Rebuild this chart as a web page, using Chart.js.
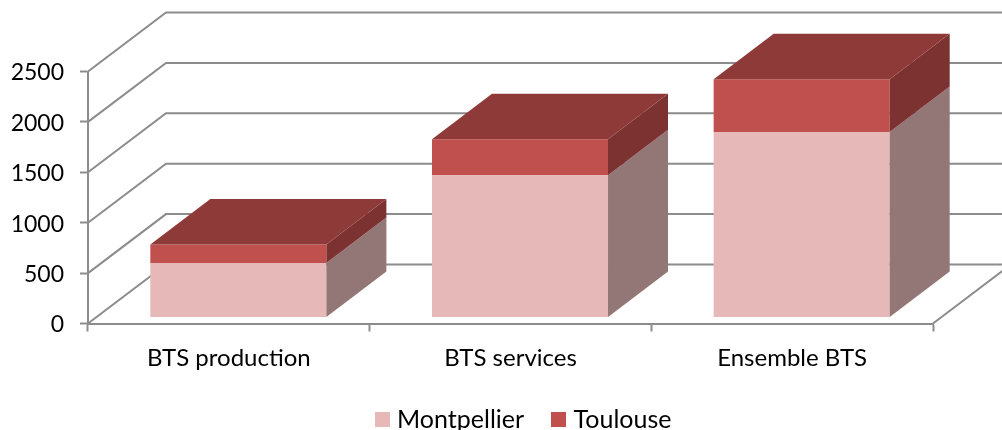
<!DOCTYPE html>
<html>
<head>
<meta charset="utf-8">
<script src="https://cdn.jsdelivr.net/npm/chart.js@4"></script>
<style>
html, body { margin: 0; padding: 0; background: #fff; }
#wrap { width: 1002px; height: 430px; overflow: hidden; }
</style>
</head>
<body>
<div id="wrap"><canvas id="chart" width="1002" height="430"></canvas></div>
<script>
const categories = ['BTS production', 'BTS services', 'Ensemble BTS'];
const seriesNames = ['Montpellier', 'Toulouse'];
const montpellier = [540, 1410, 1840];
const toulouse = [185, 358, 524];

const frontColors = ['#e6b8b7', '#c0504d'];
const gridColor = '#8c8c8c';
// depth of the back wall and of the bars
const wallDx = 78, wallDy = 59;
const barDx = 60, barDy = 45.5;
const barShiftX = 9.5, barShiftY = -6;

const faceColors = [
    { side: '#937676', top: '#8e3a39' },
    { side: '#7b3230', top: '#8e3a39' }
];

function poly(ctx, pts, color) {
    ctx.fillStyle = color;
    ctx.beginPath();
    pts.forEach((p, i) => i ? ctx.lineTo(p[0], p[1]) : ctx.moveTo(p[0], p[1]));
    ctx.closePath();
    ctx.fill();
}

// legend swatch, the default gap between box and text is too wide
function swatch(color) {
    const c = document.createElement('canvas');
    c.width = 15;
    c.height = 15;
    const g = c.getContext('2d');
    g.fillStyle = color;
    g.fillRect(0, 0, 15, 15);
    return c;
}

const depth3d = {
    id: 'depth3d',
    afterLayout(chart) {
        // legend sits off centre in the original
        chart.legend.left = 118;
        chart.legend.right = 933;
        chart.legend.top = 375;
        // tick labels get clipped to the axis box otherwise
        chart.scales.x.bottom = 395;
    },
    beforeDatasetsDraw(chart) {
        const ctx = chart.ctx;
        const y = chart.scales.y, x = chart.scales.x;
        ctx.save();
        ctx.strokeStyle = gridColor;
        ctx.lineWidth = 2;
        y.ticks.forEach(t => {
            const py = y.getPixelForValue(t.value);
            ctx.beginPath();
            ctx.moveTo(x.left, py);
            ctx.lineTo(x.left + wallDx, py - wallDy);
            ctx.lineTo(chart.width + 5, py - wallDy);
            ctx.stroke();
        });
        // floor edge on the right
        const py0 = y.getPixelForValue(0);
        ctx.beginPath();
        ctx.moveTo(x.right, py0);
        ctx.lineTo(x.right + wallDx, py0 - wallDy);
        ctx.stroke();
        ctx.restore();
        ctx.save();
        ctx.translate(barShiftX, barShiftY);
    },
    afterDatasetsDraw(chart) {
        const ctx = chart.ctx;
        chart.data.datasets.forEach((ds, d) => {
            chart.getDatasetMeta(d).data.forEach(bar => {
                const p = bar.getProps(['x', 'y', 'base', 'width'], true);
                const r = p.x + p.width / 2, l = p.x - p.width / 2;
                poly(ctx, [[r, p.base], [r, p.y], [r + barDx, p.y - barDy], [r + barDx, p.base - barDy]], faceColors[d].side);
                if (d === chart.data.datasets.length - 1) {
                    poly(ctx, [[l, p.y], [r, p.y], [r + barDx, p.y - barDy], [l + barDx, p.y - barDy]], faceColors[d].top);
                }
            });
        });
        ctx.restore();
    }
};

new Chart(document.getElementById('chart'), {
    type: 'bar',
    data: {
        labels: categories,
        datasets: [
            { label: seriesNames[0], data: montpellier, backgroundColor: frontColors[0] },
            { label: seriesNames[1], data: toulouse, backgroundColor: frontColors[1] }
        ]
    },
    options: {
        responsive: false,
        animation: false,
        layout: { padding: { top: 71.5, right: 69, left: 0, bottom: 0 } },
        datasets: { bar: { barPercentage: 0.625, categoryPercentage: 1 } },
        scales: {
            x: {
                stacked: true,
                afterFit(axis) { axis.height = 106.5 - (axis.chart.legend.height || 0); },
                grid: { drawOnChartArea: false, tickLength: 8, tickWidth: 2, tickColor: gridColor },
                border: { color: gridColor, width: 2 },
                ticks: { color: '#000', font: { family: 'Lato', size: 24 }, padding: 12, maxRotation: 0 }
            },
            y: {
                stacked: true,
                min: 0,
                max: 2500,
                afterFit(axis) { axis.width = 88; },
                grid: { drawOnChartArea: false, tickLength: 8, tickWidth: 2, tickColor: gridColor },
                border: { color: gridColor, width: 2 },
                ticks: {
                    stepSize: 500,
                    color: '#000',
                    font: { family: 'Lato', size: 23 },
                    padding: 16,
                    labelOffset: 1.5,
                    callback: v => String(v)
                }
            }
        },
        plugins: {
            tooltip: { enabled: false },
            legend: {
                position: 'bottom',
                labels: {
                    usePointStyle: true,
                    pointStyleWidth: 5,
                    boxHeight: 15,
                    padding: 32,
                    color: '#000',
                    font: { family: 'Lato', size: 25 },
                    generateLabels: () => seriesNames.map((name, i) => ({
                        text: name,
                        pointStyle: swatch(frontColors[i]),
                        fontColor: '#000',
                        datasetIndex: i
                    }))
                }
            }
        }
    },
    plugins: [depth3d]
});
</script>
</body>
</html>
